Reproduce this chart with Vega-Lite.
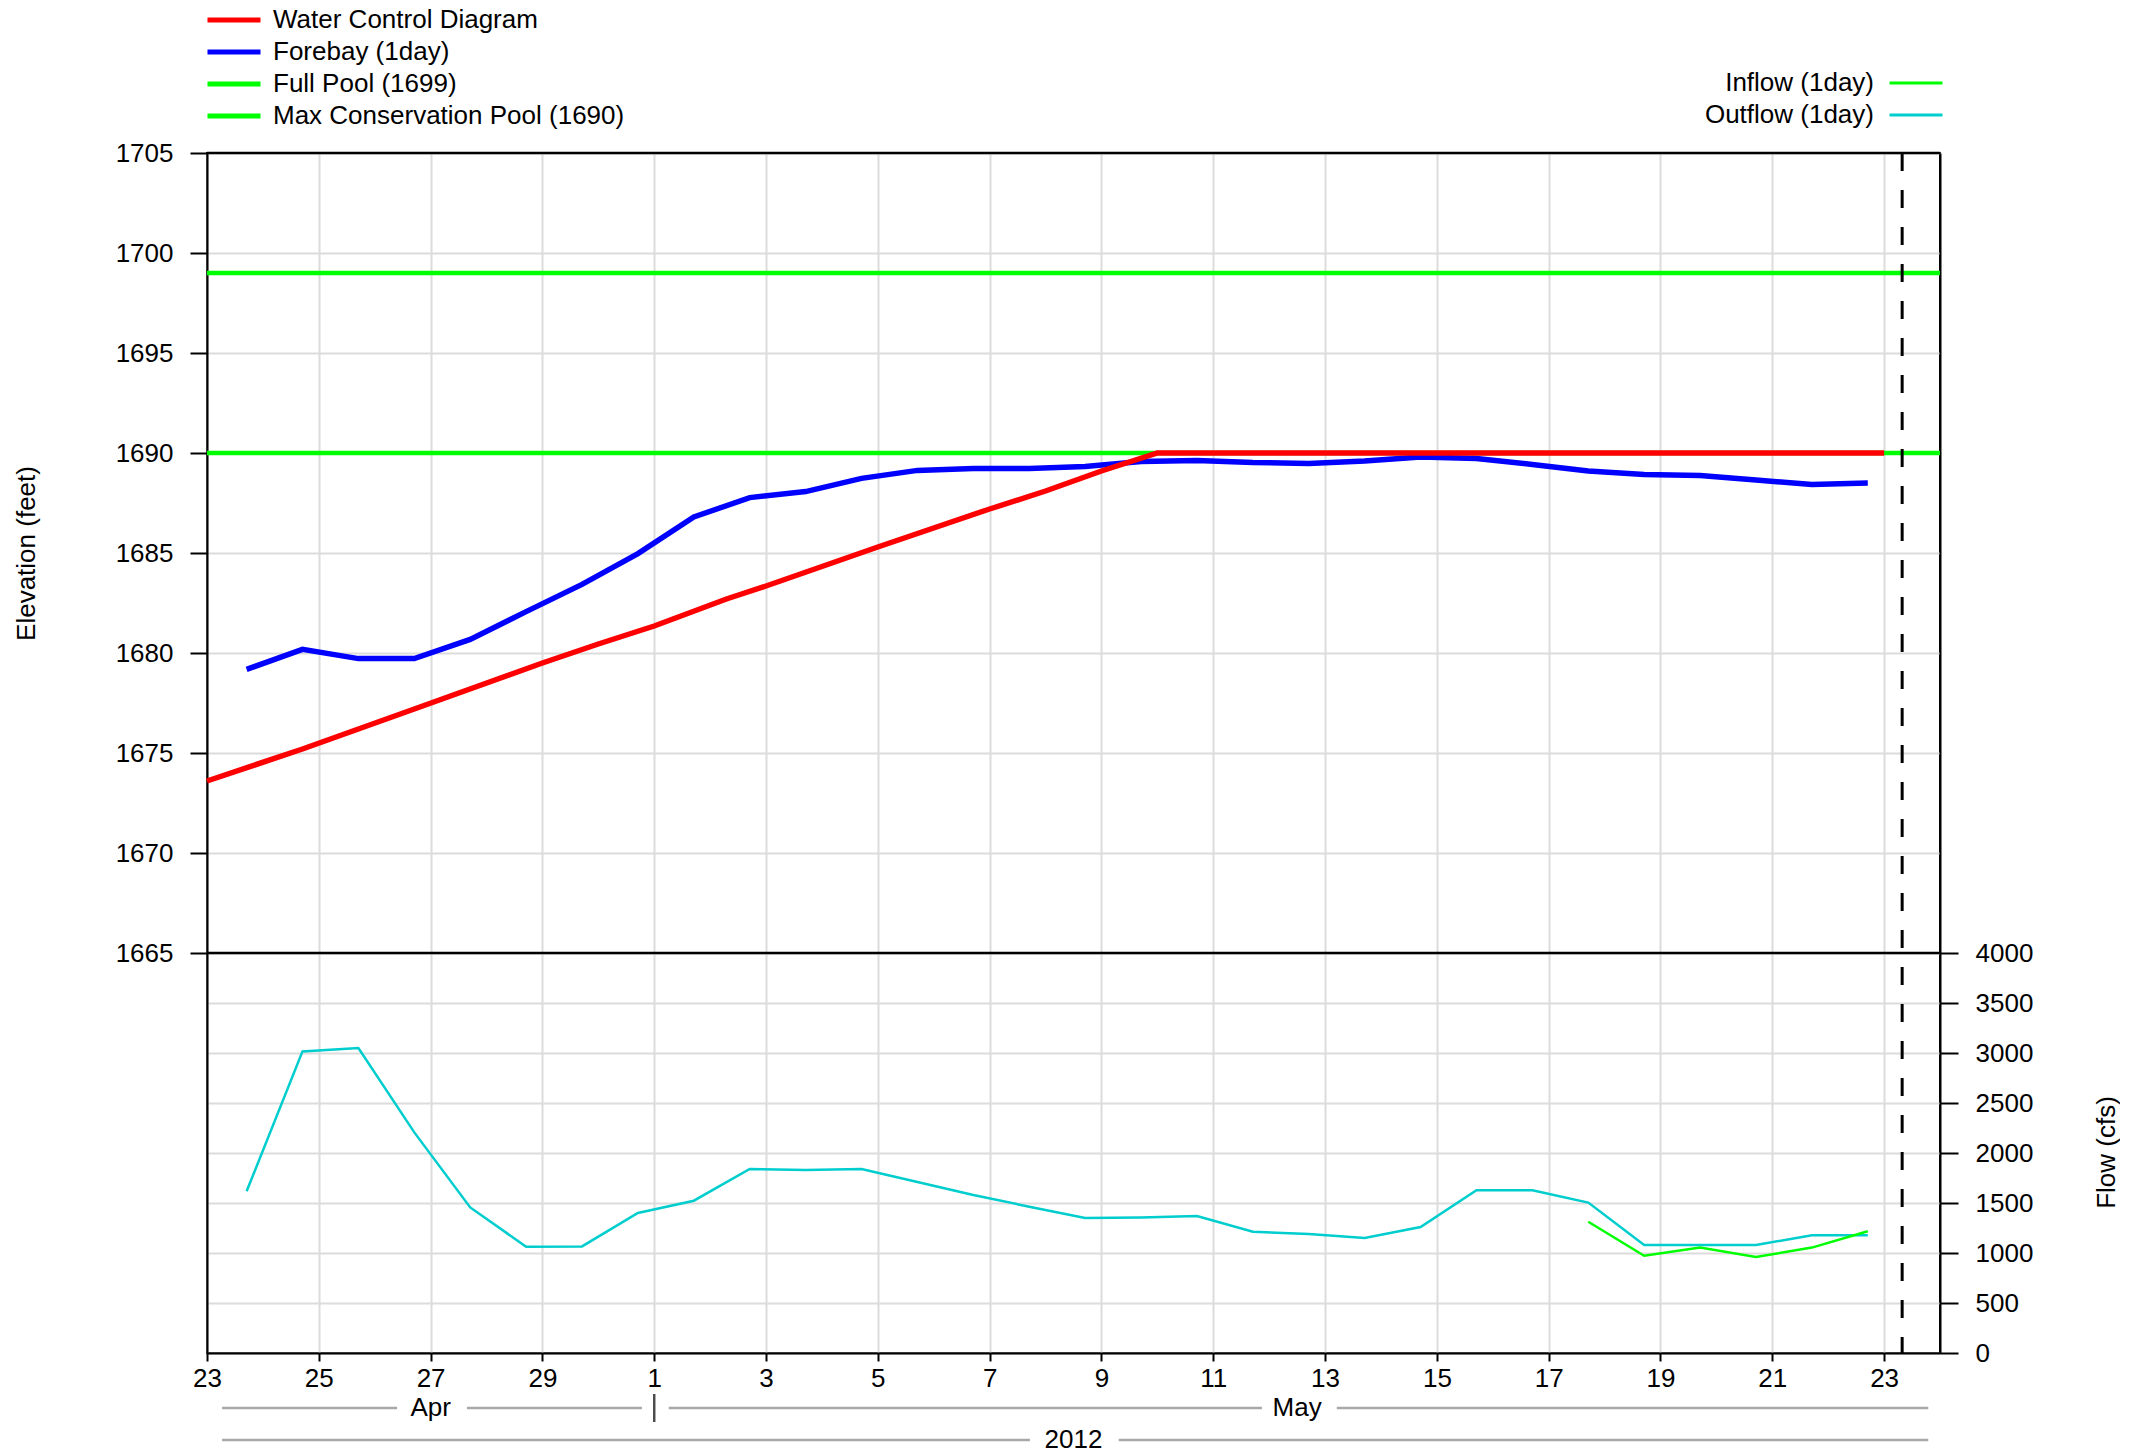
{
  "$schema": "https://vega.github.io/schema/vega-lite/v6.json",
  "background": "white",
  "autosize": {"type": "pad"},
  "padding": {"left": 12, "top": 6, "right": 0, "bottom": 0},
  "spacing": 0,
  "config": {
    "font": "Liberation Sans",
    "view": {"stroke": "black", "strokeWidth": 2},
    "axis": {
      "labelFont": "Liberation Sans", "labelFontSize": 26, "labelColor": "black",
      "titleFont": "Liberation Sans", "titleFontSize": 26, "titleFontWeight": "normal", "titleColor": "black",
      "domainColor": "black", "domainWidth": 2, "tickColor": "black", "tickWidth": 2,
      "gridColor": "#dcdcdc", "gridWidth": 2
    },
    "legend": {"labelFont": "Liberation Sans", "labelFontSize": 26, "labelColor": "black", "labelLimit": 1000},
    "text": {"font": "Liberation Sans"}
  },
  "datasets": {
    "one": [{}],
    "elev": [
      {"date": "2012-04-23T00:00:00Z", "series": "Water Control Diagram", "value": 1673.6},
      {"date": "2012-04-24T17:00:00Z", "series": "Water Control Diagram", "value": 1675.2},
      {"date": "2012-04-26T17:00:00Z", "series": "Water Control Diagram", "value": 1677.2},
      {"date": "2012-04-29T00:00:00Z", "series": "Water Control Diagram", "value": 1679.5},
      {"date": "2012-04-30T00:00:00Z", "series": "Water Control Diagram", "value": 1680.45},
      {"date": "2012-05-01T00:00:00Z", "series": "Water Control Diagram", "value": 1681.35},
      {"date": "2012-05-02T07:00:00Z", "series": "Water Control Diagram", "value": 1682.7},
      {"date": "2012-05-03T00:00:00Z", "series": "Water Control Diagram", "value": 1683.35},
      {"date": "2012-05-05T00:00:00Z", "series": "Water Control Diagram", "value": 1685.3},
      {"date": "2012-05-07T00:00:00Z", "series": "Water Control Diagram", "value": 1687.2},
      {"date": "2012-05-08T00:00:00Z", "series": "Water Control Diagram", "value": 1688.1},
      {"date": "2012-05-09T00:00:00Z", "series": "Water Control Diagram", "value": 1689.1},
      {"date": "2012-05-10T00:00:00Z", "series": "Water Control Diagram", "value": 1690},
      {"date": "2012-05-23T00:00:00Z", "series": "Water Control Diagram", "value": 1690},
      {"date": "2012-04-23T17:00:00Z", "series": "Forebay (1day)", "value": 1679.18},
      {"date": "2012-04-24T17:00:00Z", "series": "Forebay (1day)", "value": 1680.18},
      {"date": "2012-04-25T17:00:00Z", "series": "Forebay (1day)", "value": 1679.72},
      {"date": "2012-04-26T17:00:00Z", "series": "Forebay (1day)", "value": 1679.72},
      {"date": "2012-04-27T17:00:00Z", "series": "Forebay (1day)", "value": 1680.68},
      {"date": "2012-04-28T17:00:00Z", "series": "Forebay (1day)", "value": 1682.07},
      {"date": "2012-04-29T17:00:00Z", "series": "Forebay (1day)", "value": 1683.43},
      {"date": "2012-04-30T17:00:00Z", "series": "Forebay (1day)", "value": 1684.97},
      {"date": "2012-05-01T17:00:00Z", "series": "Forebay (1day)", "value": 1686.8},
      {"date": "2012-05-02T17:00:00Z", "series": "Forebay (1day)", "value": 1687.77},
      {"date": "2012-05-03T17:00:00Z", "series": "Forebay (1day)", "value": 1688.07},
      {"date": "2012-05-04T17:00:00Z", "series": "Forebay (1day)", "value": 1688.73},
      {"date": "2012-05-05T17:00:00Z", "series": "Forebay (1day)", "value": 1689.13},
      {"date": "2012-05-06T17:00:00Z", "series": "Forebay (1day)", "value": 1689.23},
      {"date": "2012-05-07T17:00:00Z", "series": "Forebay (1day)", "value": 1689.23},
      {"date": "2012-05-08T17:00:00Z", "series": "Forebay (1day)", "value": 1689.32},
      {"date": "2012-05-09T17:00:00Z", "series": "Forebay (1day)", "value": 1689.57},
      {"date": "2012-05-10T17:00:00Z", "series": "Forebay (1day)", "value": 1689.63},
      {"date": "2012-05-11T17:00:00Z", "series": "Forebay (1day)", "value": 1689.52},
      {"date": "2012-05-12T17:00:00Z", "series": "Forebay (1day)", "value": 1689.48},
      {"date": "2012-05-13T17:00:00Z", "series": "Forebay (1day)", "value": 1689.6},
      {"date": "2012-05-14T17:00:00Z", "series": "Forebay (1day)", "value": 1689.8},
      {"date": "2012-05-15T17:00:00Z", "series": "Forebay (1day)", "value": 1689.73},
      {"date": "2012-05-16T17:00:00Z", "series": "Forebay (1day)", "value": 1689.43},
      {"date": "2012-05-17T17:00:00Z", "series": "Forebay (1day)", "value": 1689.1},
      {"date": "2012-05-18T17:00:00Z", "series": "Forebay (1day)", "value": 1688.93},
      {"date": "2012-05-19T17:00:00Z", "series": "Forebay (1day)", "value": 1688.88},
      {"date": "2012-05-20T17:00:00Z", "series": "Forebay (1day)", "value": 1688.65},
      {"date": "2012-05-21T17:00:00Z", "series": "Forebay (1day)", "value": 1688.43},
      {"date": "2012-05-22T17:00:00Z", "series": "Forebay (1day)", "value": 1688.5}
    ],
    "flow": [
      {"date": "2012-04-23T17:00:00Z", "series": "Outflow (1day)", "value": 1617},
      {"date": "2012-04-24T17:00:00Z", "series": "Outflow (1day)", "value": 3016},
      {"date": "2012-04-25T17:00:00Z", "series": "Outflow (1day)", "value": 3050},
      {"date": "2012-04-26T17:00:00Z", "series": "Outflow (1day)", "value": 2206},
      {"date": "2012-04-27T17:00:00Z", "series": "Outflow (1day)", "value": 1456},
      {"date": "2012-04-28T17:00:00Z", "series": "Outflow (1day)", "value": 1063},
      {"date": "2012-04-29T17:00:00Z", "series": "Outflow (1day)", "value": 1066},
      {"date": "2012-04-30T17:00:00Z", "series": "Outflow (1day)", "value": 1400},
      {"date": "2012-05-01T17:00:00Z", "series": "Outflow (1day)", "value": 1523},
      {"date": "2012-05-02T17:00:00Z", "series": "Outflow (1day)", "value": 1840},
      {"date": "2012-05-03T17:00:00Z", "series": "Outflow (1day)", "value": 1830},
      {"date": "2012-05-04T17:00:00Z", "series": "Outflow (1day)", "value": 1840},
      {"date": "2012-05-05T17:00:00Z", "series": "Outflow (1day)", "value": 1710},
      {"date": "2012-05-06T17:00:00Z", "series": "Outflow (1day)", "value": 1580},
      {"date": "2012-05-07T17:00:00Z", "series": "Outflow (1day)", "value": 1463},
      {"date": "2012-05-08T17:00:00Z", "series": "Outflow (1day)", "value": 1350},
      {"date": "2012-05-09T17:00:00Z", "series": "Outflow (1day)", "value": 1356},
      {"date": "2012-05-10T17:00:00Z", "series": "Outflow (1day)", "value": 1370},
      {"date": "2012-05-11T17:00:00Z", "series": "Outflow (1day)", "value": 1212},
      {"date": "2012-05-12T17:00:00Z", "series": "Outflow (1day)", "value": 1190},
      {"date": "2012-05-13T17:00:00Z", "series": "Outflow (1day)", "value": 1150},
      {"date": "2012-05-14T17:00:00Z", "series": "Outflow (1day)", "value": 1260},
      {"date": "2012-05-15T17:00:00Z", "series": "Outflow (1day)", "value": 1627},
      {"date": "2012-05-16T17:00:00Z", "series": "Outflow (1day)", "value": 1627},
      {"date": "2012-05-17T17:00:00Z", "series": "Outflow (1day)", "value": 1504},
      {"date": "2012-05-18T17:00:00Z", "series": "Outflow (1day)", "value": 1080},
      {"date": "2012-05-19T17:00:00Z", "series": "Outflow (1day)", "value": 1080},
      {"date": "2012-05-20T17:00:00Z", "series": "Outflow (1day)", "value": 1080},
      {"date": "2012-05-21T17:00:00Z", "series": "Outflow (1day)", "value": 1177},
      {"date": "2012-05-22T17:00:00Z", "series": "Outflow (1day)", "value": 1177},
      {"date": "2012-05-17T17:00:00Z", "series": "Inflow (1day)", "value": 1313},
      {"date": "2012-05-18T17:00:00Z", "series": "Inflow (1day)", "value": 972},
      {"date": "2012-05-19T17:00:00Z", "series": "Inflow (1day)", "value": 1054},
      {"date": "2012-05-20T17:00:00Z", "series": "Inflow (1day)", "value": 960},
      {"date": "2012-05-21T17:00:00Z", "series": "Inflow (1day)", "value": 1054},
      {"date": "2012-05-22T17:00:00Z", "series": "Inflow (1day)", "value": 1218}
    ],
    "bandSeg": [
      {"level": "month", "start": "2012-04-23T06:29:00Z", "end": "2012-04-26T09:36:00Z"},
      {"level": "month", "start": "2012-04-27T15:36:00Z", "end": "2012-04-30T18:43:00Z"},
      {"level": "month", "start": "2012-05-01T06:14:00Z", "end": "2012-05-11T20:53:00Z"},
      {"level": "month", "start": "2012-05-13T05:02:00Z", "end": "2012-05-23T18:58:00Z"},
      {"level": "year", "start": "2012-04-23T06:29:00Z", "end": "2012-05-07T17:17:00Z"},
      {"level": "year", "start": "2012-05-09T07:26:00Z", "end": "2012-05-23T18:58:00Z"}
    ],
    "bandText": [
      {"level": "month", "label": "Apr", "mid": "2012-04-27T00:00:00Z"},
      {"level": "month", "label": "May", "mid": "2012-05-12T12:00:00Z"},
      {"level": "year", "label": "2012", "mid": "2012-05-08T12:00:00Z"}
    ],
    "bandTick": [
      {"level": "month", "date": "2012-05-01T00:00:00Z"}
    ]
  },
  "vconcat": [
    {
      "width": 1733,
      "height": 1200,
      "resolve": {"scale": {"y": "independent", "color": "independent"}, "axis": {"y": "independent"}, "legend": {"color": "independent"}},
      "layer": [
        {
          "data": {"name": "one"},
          "mark": {"type": "rule", "strokeWidth": 4.5},
          "encoding": {
            "y": {"datum": 1699, "type": "quantitative", "scale": {"domain": [1645, 1705], "nice": false, "zero": false},
              "axis": {"orient": "left", "values": [1665, 1670, 1675, 1680, 1685, 1690, 1695, 1700, 1705], "format": "d", "grid": true, "tickSize": 17, "labelPadding": 17,
                "title": "Elevation (feet)", "titleX": -181, "titleY": 400, "titleAngle": 270, "titleAlign": "center", "titleBaseline": "middle"}},
            "color": {"datum": "Full Pool (1699)", "type": "nominal",
              "scale": {"domain": ["Water Control Diagram", "Forebay (1day)", "Full Pool (1699)", "Max Conservation Pool (1690)"], "range": ["#ff0000", "#0000ff", "#00ff00", "#00ff00"]},
              "legend": {"orient": "none", "legendX": -2, "legendY": -146, "direction": "vertical", "title": null, "symbolType": "stroke", "symbolSize": 2809, "symbolStrokeWidth": 5, "labelOffset": 10, "clipHeight": 26, "rowPadding": 6, "padding": 0}}
          }
        },
        {
          "data": {"name": "one"},
          "mark": {"type": "rule", "strokeWidth": 4.5, "color": "#00ff00"},
          "encoding": {
            "y": {"datum": 1690, "type": "quantitative", "scale": {"domain": [1645, 1705], "nice": false, "zero": false}, "axis": null}
          }
        },
        {
          "data": {"name": "elev"},
          "transform": [{"filter": "datum.series === 'Forebay (1day)'"}],
          "mark": {"type": "line", "strokeWidth": 5.5, "color": "#0000ff"},
          "encoding": {
            "x": {"field": "date", "type": "temporal",
              "scale": {"type": "utc", "nice": false, "domain": [{"year": 2012, "month": 4, "date": 23, "utc": true}, {"year": 2012, "month": 5, "date": 24, "utc": true}]},
              "axis": {"values": [
                {"year": 2012, "month": 4, "date": 23, "utc": true}, {"year": 2012, "month": 4, "date": 25, "utc": true},
                {"year": 2012, "month": 4, "date": 27, "utc": true}, {"year": 2012, "month": 4, "date": 29, "utc": true},
                {"year": 2012, "month": 5, "date": 1, "utc": true}, {"year": 2012, "month": 5, "date": 3, "utc": true},
                {"year": 2012, "month": 5, "date": 5, "utc": true}, {"year": 2012, "month": 5, "date": 7, "utc": true},
                {"year": 2012, "month": 5, "date": 9, "utc": true}, {"year": 2012, "month": 5, "date": 11, "utc": true},
                {"year": 2012, "month": 5, "date": 13, "utc": true}, {"year": 2012, "month": 5, "date": 15, "utc": true},
                {"year": 2012, "month": 5, "date": 17, "utc": true}, {"year": 2012, "month": 5, "date": 19, "utc": true},
                {"year": 2012, "month": 5, "date": 21, "utc": true}, {"year": 2012, "month": 5, "date": 23, "utc": true}],
                "labelExpr": "utcFormat(datum.value, '%-d')", "grid": true, "tickSize": 8, "labelPadding": 4, "title": null, "labelFlush": false, "labelOverlap": false}},
            "y": {"field": "value", "type": "quantitative", "scale": {"domain": [1645, 1705], "nice": false, "zero": false}, "axis": null}
          }
        },
        {
          "data": {"name": "elev"},
          "transform": [{"filter": "datum.series === 'Water Control Diagram'"}],
          "mark": {"type": "line", "strokeWidth": 5.5, "color": "#ff0000"},
          "encoding": {
            "x": {"field": "date", "type": "temporal",
              "scale": {"type": "utc", "nice": false, "domain": [{"year": 2012, "month": 4, "date": 23, "utc": true}, {"year": 2012, "month": 5, "date": 24, "utc": true}]}},
            "y": {"field": "value", "type": "quantitative", "scale": {"domain": [1645, 1705], "nice": false, "zero": false}, "axis": null}
          }
        },
        {
          "data": {"name": "one"},
          "mark": {"type": "rule", "color": "black", "strokeWidth": 2.5},
          "encoding": {
            "y": {"datum": 1665, "type": "quantitative", "scale": {"domain": [1645, 1705], "nice": false, "zero": false}, "axis": null}
          }
        },
        {
          "data": {"name": "one"},
          "mark": {"type": "rule", "color": "black", "strokeWidth": 2.5},
          "encoding": {
            "y": {"datum": 1705, "type": "quantitative", "scale": {"domain": [1645, 1705], "nice": false, "zero": false}, "axis": null}
          }
        },
        {
          "data": {"name": "flow"},
          "transform": [{"filter": "datum.series === 'Outflow (1day)'"}],
          "mark": {"type": "line", "strokeWidth": 2.5},
          "encoding": {
            "x": {"field": "date", "type": "temporal",
              "scale": {"type": "utc", "nice": false, "domain": [{"year": 2012, "month": 4, "date": 23, "utc": true}, {"year": 2012, "month": 5, "date": 24, "utc": true}]}},
            "y": {"field": "value", "type": "quantitative", "scale": {"domain": [0, 12000], "nice": false, "zero": false},
              "axis": {"orient": "right", "values": [0, 500, 1000, 1500, 2000, 2500, 3000, 3500, 4000], "format": "d", "grid": true, "tickSize": 18, "labelPadding": 17,
                "title": "Flow (cfs)", "titleX": 166, "titleY": 999, "titleAngle": 270, "titleAlign": "center", "titleBaseline": "middle"}},
            "color": {"field": "series", "type": "nominal",
              "scale": {"domain": ["Outflow (1day)"], "range": ["#00cdcd"]},
              "legend": {"orient": "none", "legendX": 1494, "legendY": -66, "direction": "vertical", "title": null, "symbolType": "stroke", "symbolSize": 2809, "symbolStrokeWidth": 3, "labelAlign": "right", "labelOffset": -70, "symbolOffset": 187, "padding": 0}}
          }
        },
        {
          "data": {"name": "flow"},
          "transform": [{"filter": "datum.series === 'Inflow (1day)'"}],
          "mark": {"type": "line", "strokeWidth": 2.5},
          "encoding": {
            "x": {"field": "date", "type": "temporal",
              "scale": {"type": "utc", "nice": false, "domain": [{"year": 2012, "month": 4, "date": 23, "utc": true}, {"year": 2012, "month": 5, "date": 24, "utc": true}]}},
            "y": {"field": "value", "type": "quantitative", "scale": {"domain": [0, 12000], "nice": false, "zero": false}, "axis": null},
            "color": {"field": "series", "type": "nominal",
              "scale": {"domain": ["Inflow (1day)"], "range": ["#00ff00"]},
              "legend": {"orient": "none", "legendX": 1494, "legendY": -98, "direction": "vertical", "title": null, "symbolType": "stroke", "symbolSize": 2809, "symbolStrokeWidth": 3, "labelAlign": "right", "labelOffset": -70, "symbolOffset": 187, "padding": 0}}
          }
        },
        {
          "data": {"name": "one"},
          "mark": {"type": "rule", "color": "black", "strokeWidth": 3, "strokeDash": [18, 19]},
          "encoding": {
            "x": {"datum": {"year": 2012, "month": 5, "date": 23, "hours": 7, "minutes": 45, "utc": true}, "type": "temporal",
              "scale": {"type": "utc", "nice": false, "domain": [{"year": 2012, "month": 4, "date": 23, "utc": true}, {"year": 2012, "month": 5, "date": 24, "utc": true}]}}
          }
        }
      ]
    },
    {
      "width": 1733,
      "height": 64,
      "view": {"stroke": null},
      "layer": [
        {
          "data": {"name": "bandSeg"},
          "mark": {"type": "rule", "color": "#a8a8a8", "strokeWidth": 2.5},
          "encoding": {
            "x": {"field": "start", "type": "temporal",
              "scale": {"type": "utc", "nice": false, "domain": [{"year": 2012, "month": 4, "date": 23, "utc": true}, {"year": 2012, "month": 5, "date": 24, "utc": true}]}, "axis": null},
            "x2": {"field": "end"},
            "y": {"field": "level", "type": "nominal", "scale": {"type": "point", "domain": ["month", "year"], "padding": 0.5}, "axis": null}
          }
        },
        {
          "data": {"name": "bandText"},
          "mark": {"type": "text", "fontSize": 26, "color": "black", "baseline": "middle", "align": "center"},
          "encoding": {
            "x": {"field": "mid", "type": "temporal",
              "scale": {"type": "utc", "nice": false, "domain": [{"year": 2012, "month": 4, "date": 23, "utc": true}, {"year": 2012, "month": 5, "date": 24, "utc": true}]}, "axis": null},
            "y": {"field": "level", "type": "nominal", "scale": {"type": "point", "domain": ["month", "year"], "padding": 0.5}, "axis": null},
            "text": {"field": "label"}
          }
        },
        {
          "data": {"name": "bandTick"},
          "mark": {"type": "tick", "color": "black", "thickness": 2.5, "size": 28},
          "encoding": {
            "x": {"field": "date", "type": "temporal",
              "scale": {"type": "utc", "nice": false, "domain": [{"year": 2012, "month": 4, "date": 23, "utc": true}, {"year": 2012, "month": 5, "date": 24, "utc": true}]}, "axis": null},
            "y": {"field": "level", "type": "nominal", "scale": {"type": "point", "domain": ["month", "year"], "padding": 0.5}, "axis": null}
          }
        }
      ]
    }
  ]
}
